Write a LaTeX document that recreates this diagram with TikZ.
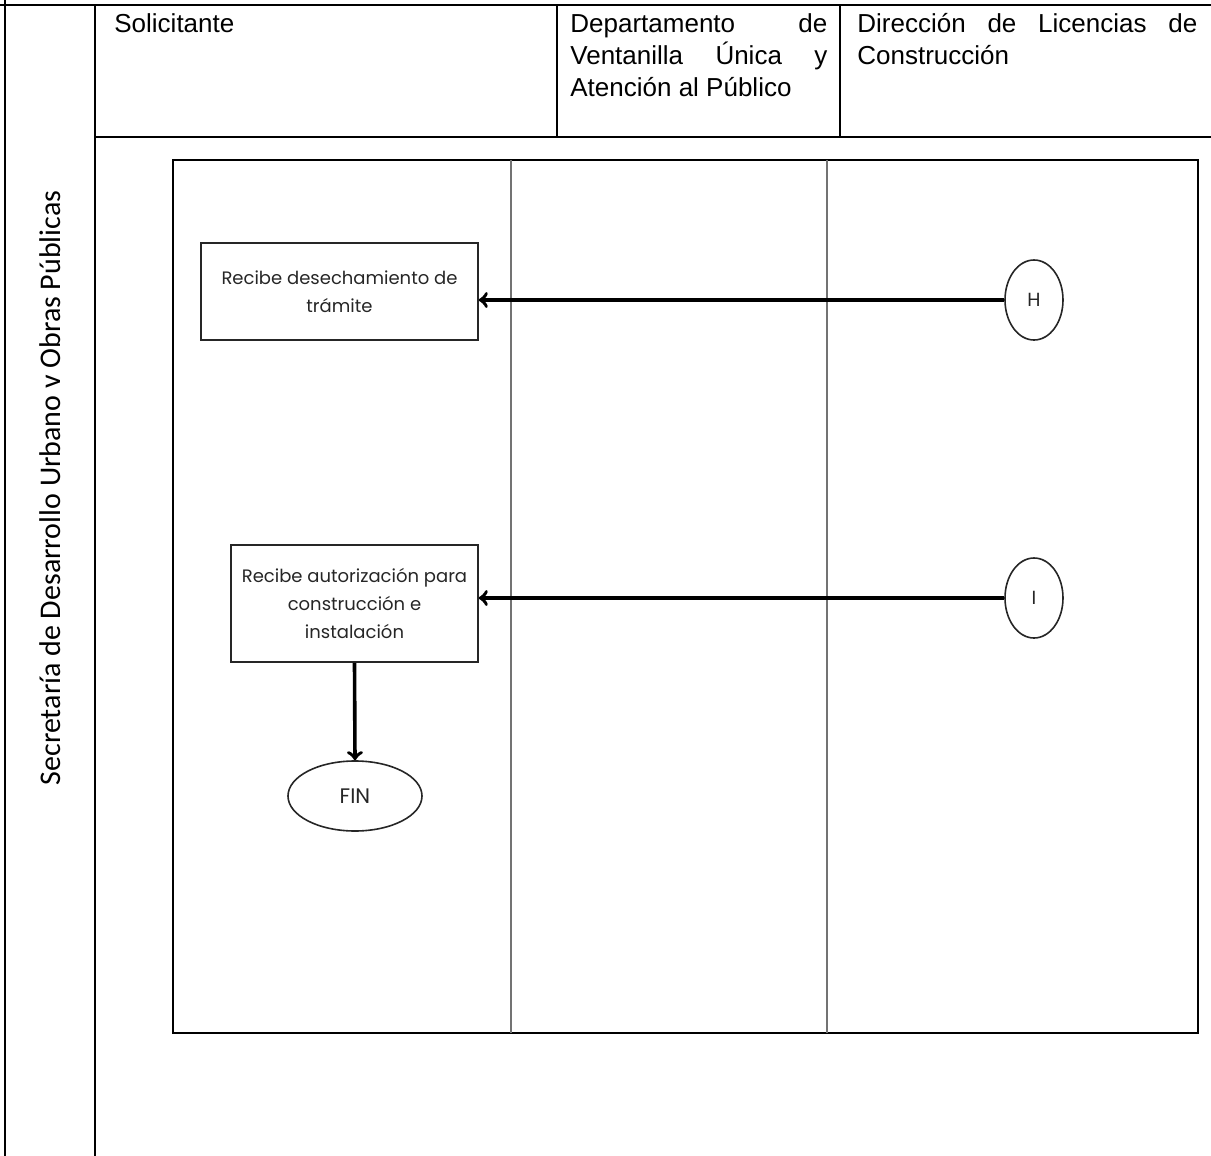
\documentclass[tikz,border=0pt]{standalone}
\usepackage{fontspec}
\setmainfont{Liberation Sans}
\newfontfamily\calfont{Carlito}
\newfontfamily\gothfont{Poppins}
\usetikzlibrary{shapes}
\usetikzlibrary{positioning}
\definecolor{cgray}{rgb}{0.45, 0.45, 0.45}
\definecolor{ctext}{rgb}{0.15, 0.15, 0.15}
\newcommand{\nohyph}{\hyphenpenalty=10000\relax\exhyphenpenalty=10000\relax}

\tikzset{
    header/.style={anchor=north west, inner sep=0pt, align=justify,
        font=\fontsize{13}{16}\selectfont\nohyph},
    step box/.style={draw=ctext, line width=0.8pt, rectangle, align=center, text=ctext,
        font=\gothfont\fontsize{9}{14}\selectfont},
    connector/.style={draw=ctext, line width=0.8pt, ellipse, minimum width=29pt, minimum height=40pt,
        inner sep=0pt, text=ctext, font=\gothfont\fontsize{9.5}{11}\selectfont},
    flow/.style={line width=1.8pt, ->},
}

\begin{document}
\begin{tikzpicture}[x={(0.5pt,0)}, y={(0,-0.5pt)}]

\draw[draw=none, use as bounding box] (0, 0) rectangle (1211, 1156);

% outer table
\draw [line width=1pt] (0, 5) -- (1211, 5);
\draw [line width=1pt] (5, 0) -- (5, 1156);
\draw [line width=1pt] (95, 5) -- (95, 1156);
\draw [line width=1pt] (95, 137) -- (1211, 137);
\draw [line width=1pt] (557, 5) -- (557, 137);
\draw [line width=1pt] (840, 5) -- (840, 137);

\node [header, text width=100pt] (solicitante) at (114, 13) {Solicitante};
\node [header, text width=128.5pt] (ventanilla) at (570, 13) {Departamento de Ventanilla Única y Atención al Público};
\node [header, text width=170pt] (licencias) at (857, 13) {Dirección de Licencias de Construcción};

\node [rotate=90, font=\calfont\fontsize{15}{18}\selectfont] (secretaria) at (50, 488)
      {Secretaría de Desarrollo Urbano v Obras Públicas};

% swimlanes
\draw [line width=1pt] (173, 160) rectangle (1198, 1033);
\foreach \x in {511, 827}
    \draw [cgray, line width=0.6pt] (\x, 160) -- (\x, 1033);

% steps
\node [step box, minimum width=138.5pt, minimum height=48.5pt] (desecha) at (339.5, 291.5)
      {Recibe desechamiento de\\trámite};
\node [step box, minimum width=123.5pt, minimum height=58.5pt] (autoriza) at (354.5, 603.5)
      {Recibe autorización para\\construcción e\\instalación};
\node [connector] (conH) at (1034, 300) {H};
\node [connector] (conI) at (1034, 598) {I};
\node [draw=ctext, line width=0.8pt, ellipse, minimum width=67pt, minimum height=35pt, inner sep=0pt,
       text=ctext, font=\gothfont\fontsize{10.5}{12}\selectfont] (fin) at (355, 796) {FIN};

\draw [flow] (conH.west) -- (conH.west -| desecha.east);
\draw [flow] (conI.west) -- (conI.west -| autoriza.east);
\draw [flow] (autoriza.south) -- (fin.north);
\end{tikzpicture}
\end{document}
